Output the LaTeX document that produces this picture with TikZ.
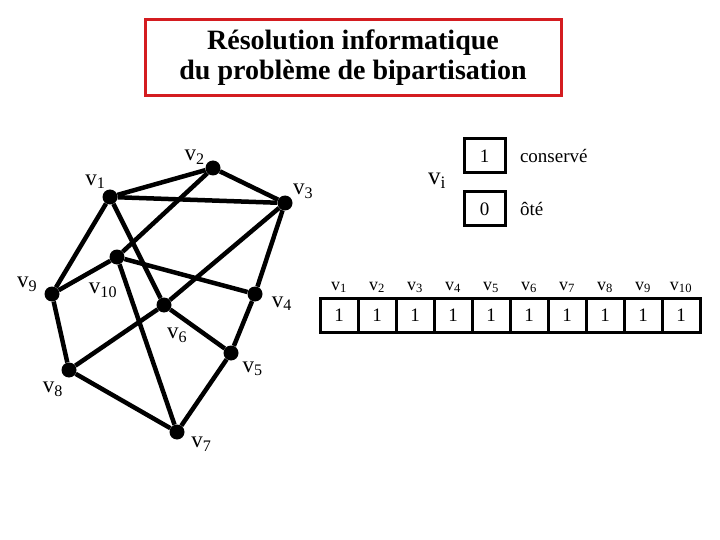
\documentclass[tikz,border=0pt]{standalone}
\usepackage{fontspec}
\setmainfont{Liberation Serif}
\usepackage{tikz}
\usetikzlibrary{positioning}
\definecolor{titlered}{RGB}{212,28,32}
\newcommand{\vlab}[1]{v\textsubscript{#1}}

\begin{document}
\begin{tikzpicture}[
x=1pt,y=-1pt,
titlebox/.style={draw=titlered,line width=3pt,minimum width=416pt,minimum height=76pt,align=center,font=\fontsize{28}{30}\selectfont\bfseries},
dot/.style={circle,fill=black,inner sep=0pt,minimum size=15pt},
lbl/.style={font=\fontsize{23}{24}\selectfont,inner sep=1pt},
albl/.style={font=\fontsize{18}{20}\selectfont,inner sep=0pt},
edge/.style={line width=4.5pt},
cell/.style={draw,line width=3pt,minimum width=38pt,minimum height=34pt,outer sep=0pt,inner sep=0pt,font=\fontsize{19}{20}\selectfont},
key/.style={draw,line width=3pt,minimum width=41pt,minimum height=34pt,inner sep=0pt,font=\fontsize{19}{20}\selectfont},
note/.style={font=\fontsize{19}{20}\selectfont,anchor=west}
]
\useasboundingbox (0,0) rectangle (720,540);

\node[titlebox] (title) at (353,58) {R\'esolution informatique\\du probl\`eme de bipartisation};

% the graph
\node[dot,label={[lbl,label distance=0pt]115:\vlab{1}}] (v1) at (110,197) {};
\node[dot,label={[lbl,label distance=0pt]160:\vlab{2}}] (v2) at (213,168) {};
\node[dot,label={[lbl,label distance=0pt]25:\vlab{3}}] (v3) at (285,203) {};
\node[dot,label={[lbl,label distance=8pt]-5:\vlab{4}}] (v4) at (255,294) {};
\node[dot,label={[lbl,label distance=5pt]-35:\vlab{5}}] (v5) at (231,353) {};
\node[dot,label={[lbl,label distance=14pt]-85:\vlab{6}}] (v6) at (164,305) {};
\node[dot,label={[lbl,label distance=6pt]-15:\vlab{7}}] (v7) at (177,432) {};
\node[dot,label={[lbl,label distance=4pt]-115:\vlab{8}}] (v8) at (69,370) {};
\node[dot,label={[lbl,label distance=6pt]175:\vlab{9}}] (v9) at (52,294) {};
\node[dot,label={[lbl,xshift=-14pt,label distance=17pt]below:\vlab{10}}] (v10) at (117,257) {};

\draw[edge] (v1) -- (v2);
\draw[edge] (v2) -- (v3);
\draw[edge] (v1) -- (v3);
\draw[edge] (v1) -- (v9);
\draw[edge] (v1) -- (v6);
\draw[edge] (v2) -- (v10);
\draw[edge] (v3) -- (v6);
\draw[edge] (v3) -- (v4);
\draw[edge] (v10) -- (v9);
\draw[edge] (v10) -- (v4);
\draw[edge] (v10) -- (v7);
\draw[edge] (v9) -- (v8);
\draw[edge] (v6) -- (v8);
\draw[edge] (v6) -- (v5);
\draw[edge] (v4) -- (v5);
\draw[edge] (v5) -- (v7);
\draw[edge] (v8) -- (v7);

% legend
\node[key] (keep) at (484.5,156) {1};
\node[key,below=16pt of keep] (drop) {0};
\node[note,right=10pt of keep] (keeptxt) {conserv\'e};
\node[note,right=10pt of drop] (droptxt) {\^ot\'e};
\node[font=\fontsize{25}{26}\selectfont] (vi) at (437,181) {\vlab{i}};

% the vector
\node[cell] (c1) at (339,315) {1};
\node[cell,right=0pt of c1] (c2) {1};
\node[cell,right=0pt of c2] (c3) {1};
\node[cell,right=0pt of c3] (c4) {1};
\node[cell,right=0pt of c4] (c5) {1};
\node[cell,right=0pt of c5] (c6) {1};
\node[cell,right=0pt of c6] (c7) {1};
\node[cell,right=0pt of c7] (c8) {1};
\node[cell,right=0pt of c8] (c9) {1};
\node[cell,right=0pt of c9] (c10) {1};
\foreach \i in {1,...,10}
  \node[albl,above=5pt of c\i] (a\i) {\vlab{\i}};
\end{tikzpicture}
\end{document}
